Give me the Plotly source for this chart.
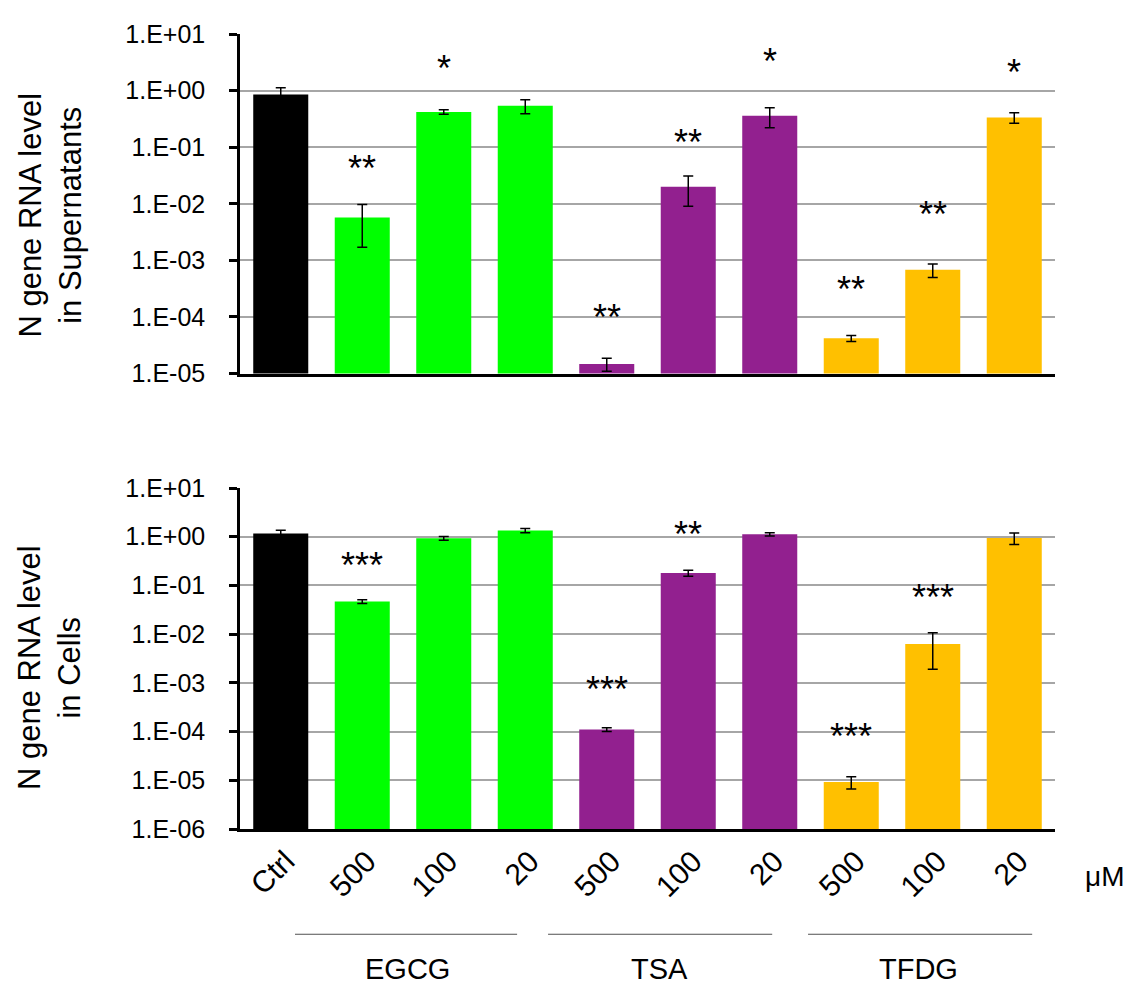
import plotly.graph_objects as go
from plotly.subplots import make_subplots

categories = ["Ctrl", "500", "100", "20", "500", "100", "20", "500", "100", "20"]
groups = ["EGCG", "TSA", "TFDG"]
bar_colors = ["#000000", "#00FF00", "#00FF00", "#00FF00",
              "#92208F", "#92208F", "#92208F",
              "#FFC000", "#FFC000", "#FFC000"]

# Supernatants (top)
sup_values = [0.85, 0.0057, 0.42, 0.54, 1.48e-5, 0.020, 0.36, 4.2e-5, 6.8e-4, 0.335]
sup_errors = [0.27, 0.0040, 0.04, 0.15, 0.38e-5, 0.011, 0.14, 0.5e-5, 1.8e-4, 0.07]
sup_stars = ["", "**", "*", "", "**", "**", "*", "**", "**", "*"]
sup_star_log = [None, -1.407, 0.353, None, -4.043, -0.952, 0.475, -3.553, -2.224, 0.283]

# Cells (bottom)
cell_values = [1.16, 0.0467, 0.93, 1.34, 1.1e-4, 0.179, 1.12, 9.2e-6, 0.0063, 0.946]
cell_errors = [0.20, 0.004, 0.08, 0.13, 0.1e-4, 0.025, 0.08, 2.6e-6, 0.0044, 0.25]
cell_stars = ["", "***", "", "", "***", "**", "", "***", "***", ""]
cell_star_log = [None, -0.626, None, None, -3.167, -0.004, None, -4.136, -1.297, None]

top_exps = [1, 0, -1, -2, -3, -4, -5]
bot_exps = [1, 0, -1, -2, -3, -4, -5, -6]

titles = ["N gene RNA level<br>in Supernatants", "N gene RNA level<br>in Cells"]

def lbl(e):
    return "1.E%s%02d" % ("+" if e >= 0 else "-", abs(e))

FONT = "Liberation Sans, Arial, sans-serif"
xs = list(range(len(categories)))

fig = make_subplots(rows=2, cols=1, shared_xaxes=False, vertical_spacing=0.144)

fig.add_trace(go.Bar(x=xs, y=sup_values, marker=dict(color=bar_colors, line=dict(width=0)),
                     error_y=dict(type="data", array=sup_errors, color="black", thickness=1.5, width=5),
                     showlegend=False), row=1, col=1)
fig.add_trace(go.Bar(x=xs, y=cell_values, marker=dict(color=bar_colors, line=dict(width=0)),
                     error_y=dict(type="data", array=cell_errors, color="black", thickness=1.5, width=5),
                     showlegend=False), row=2, col=1)

axis_common = dict(showline=True, linecolor="black", linewidth=2.5, mirror=False)

fig.update_xaxes(tickvals=xs, ticktext=categories, range=[-0.5, 9.5], **axis_common,
                 showgrid=False, ticks="", tickangle=-45, ticklabelshift=5,
                 tickfont=dict(family=FONT, size=30, color="black"))
fig.update_xaxes(showticklabels=False, row=1, col=1)

fig.update_yaxes(type="log", **axis_common, showgrid=True, gridcolor="#A6A6A6", gridwidth=1.5,
                 ticks="outside", ticklen=8, tickwidth=2.5, tickcolor="black",
                 ticklabelstandoff=19,
                 tickfont=dict(family=FONT, size=25, color="black"))
fig.update_yaxes(range=[-5, 1], tickvals=[10.0 ** e for e in top_exps],
                 ticktext=[lbl(e) for e in top_exps], row=1, col=1)
fig.update_yaxes(range=[-6, 1], tickvals=[10.0 ** e for e in bot_exps],
                 ticktext=[lbl(e) for e in bot_exps], row=2, col=1)

# inner half of crossing tick marks
fig.update_layout(
    yaxis=dict(domain=[0.5729, 1.0]),
    yaxis2=dict(domain=[0.0, 0.4289]),
    yaxis3=dict(overlaying="y", anchor="x", side="left", type="log", range=[-5, 1],
                tickvals=[10.0 ** e for e in top_exps], ticks="inside", ticklen=8, tickwidth=2.5,
                tickcolor="black", showticklabels=False, showgrid=False, showline=False),
    yaxis4=dict(overlaying="y2", anchor="x2", side="left", type="log", range=[-6, 1],
                tickvals=[10.0 ** e for e in bot_exps], ticks="inside", ticklen=8, tickwidth=2.5,
                tickcolor="black", showticklabels=False, showgrid=False, showline=False),
)

annotations = []
for i, (s, yl) in enumerate(zip(sup_stars, sup_star_log)):
    if s:
        annotations.append(dict(x=i, y=yl, xref="x", yref="y", text=s, showarrow=False,
                                yshift=2, font=dict(family=FONT, size=36, color="black")))
for i, (s, yl) in enumerate(zip(cell_stars, cell_star_log)):
    if s:
        annotations.append(dict(x=i, y=yl, xref="x2", yref="y2", text=s, showarrow=False,
                                yshift=2, font=dict(family=FONT, size=36, color="black")))

title_y = [0.7717, 0.2026]
for t, ty in zip(titles, title_y):
    annotations.append(dict(x=-0.233, y=ty, xref="paper", yref="paper", text=t, showarrow=False,
                            textangle=-90, xanchor="center", yanchor="middle",
                            font=dict(family=FONT, size=31, color="black")))

annotations.append(dict(x=1.061, y=-0.060, xref="paper", yref="paper", text="μM", showarrow=False,
                        xanchor="center", yanchor="middle", font=dict(family=FONT, size=28, color="black")))

group_label_x = [0.205, 0.515, 0.832]
group_line_x = [(0.0675, 0.340), (0.378, 0.653), (0.697, 0.972)]
shapes = []
for g, gx, (x0, x1) in zip(groups, group_label_x, group_line_x):
    annotations.append(dict(x=gx, y=-0.176, xref="paper", yref="paper", text=g, showarrow=False,
                            xanchor="center", yanchor="middle", font=dict(family=FONT, size=29, color="black")))
    shapes.append(dict(type="line", xref="paper", yref="paper", x0=x0, x1=x1, y0=-0.1324, y1=-0.1324,
                       line=dict(color="#505050", width=1)))

fig.update_layout(
    width=1126, height=981,
    margin=dict(l=232, r=79, t=18, b=160),
    paper_bgcolor="white", plot_bgcolor="white",
    bargap=0.325,
    annotations=annotations, shapes=shapes,
    font=dict(family=FONT, color="black"),
)

fig.write_html("out.html")
